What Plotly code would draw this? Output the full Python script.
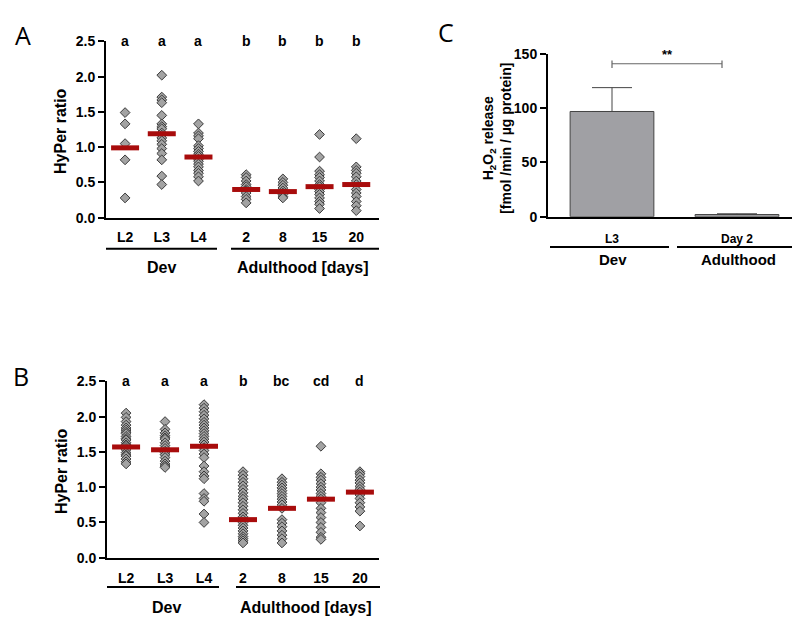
import plotly.graph_objects as go

# ---------------- data ----------------
groups_AB = ["L2", "L3", "L4", "2", "8", "15", "20"]

A_L2 = [1.49, 1.33, 1.05, 0.82, 0.28]
A_L3 = [2.02, 1.71, 1.67, 1.63, 1.45, 1.33, 1.29, 1.26, 1.20, 1.17, 1.13, 1.09, 1.04, 0.98, 0.91, 0.82, 0.59, 0.47]
A_L4 = [1.33, 1.20, 1.16, 1.12, 1.02, 0.98, 0.94, 0.90, 0.87, 0.83, 0.80, 0.76, 0.72, 0.67, 0.63, 0.58, 0.52]
A_D2 = [0.61, 0.57, 0.52, 0.47, 0.44, 0.40, 0.38, 0.35, 0.30, 0.26, 0.21]
A_D8 = [0.55, 0.50, 0.46, 0.42, 0.38, 0.35, 0.33, 0.30, 0.28]
A_D15 = [1.18, 0.86, 0.66, 0.61, 0.57, 0.52, 0.47, 0.44, 0.40, 0.37, 0.33, 0.28, 0.23, 0.19, 0.13]
A_D20 = [1.12, 0.72, 0.67, 0.63, 0.58, 0.52, 0.47, 0.40, 0.35, 0.30, 0.23, 0.17, 0.10]
A_means = [0.99, 1.19, 0.86, 0.40, 0.37, 0.44, 0.47]
A_letters = ["a", "a", "a", "b", "b", "b", "b"]

B_L2 = [2.05, 1.99, 1.93, 1.88, 1.84, 1.81, 1.78, 1.76, 1.72, 1.69, 1.67, 1.63, 1.60, 1.58, 1.55, 1.53, 1.49, 1.46, 1.44, 1.40, 1.36, 1.33]
B_L3 = [1.93, 1.82, 1.77, 1.73, 1.70, 1.68, 1.63, 1.59, 1.55, 1.51, 1.49, 1.46, 1.42, 1.37, 1.33, 1.30, 1.28]
B_L4 = [2.17, 2.12, 2.07, 2.02, 1.97, 1.92, 1.88, 1.84, 1.80, 1.76, 1.72, 1.68, 1.64, 1.60, 1.56, 1.52, 1.47, 1.42,
        1.30, 1.22, 1.16, 1.12, 0.91, 0.84, 0.80, 0.62, 0.50]
B_D2 = [1.22, 1.17, 1.12, 1.07, 1.02, 0.97, 0.92, 0.87, 0.83, 0.78, 0.73, 0.68, 0.63, 0.58, 0.54, 0.50, 0.46, 0.42,
        0.38, 0.34, 0.30, 0.27, 0.24, 0.21]
B_D8 = [1.12, 1.07, 1.03, 0.99, 0.95, 0.91, 0.87, 0.83, 0.79, 0.75, 0.70, 0.54, 0.49, 0.44, 0.38, 0.32, 0.27, 0.21]
B_D15 = [1.58, 1.19, 1.14, 1.10, 1.05, 1.00, 0.96, 0.91, 0.87, 0.83, 0.78, 0.70, 0.64, 0.57, 0.50, 0.43, 0.36, 0.29, 0.26]
B_D20 = [1.22, 1.19, 1.15, 1.10, 1.06, 1.01, 0.97, 0.93, 0.89, 0.84, 0.78, 0.72, 0.66, 0.45]
B_means = [1.57, 1.53, 1.58, 0.54, 0.70, 0.83, 0.93]
B_letters = ["a", "a", "a", "b", "bc", "cd", "d"]

C_categories = ["L3", "Day 2"]
C_values = [97, 2]
C_errors = [22, 0.7]
C_sig = "**"

# ---------------- style ----------------
FONT = "Liberation Sans, Arial, sans-serif"
GRAY = "#a3a3a3"
EDGE = "#3a3a3a"
RED = "#a80c0c"

posA = [0, 1, 2, 3.3, 4.3, 5.3, 6.3]
posB = [0, 1, 2, 3, 4, 5, 6]

fig = go.Figure()


def add_panel(series, means, pos, xa, ya):
    for p, vals in zip(pos, series):
        fig.add_trace(go.Scatter(
            x=[p] * len(vals), y=vals, mode="markers", xaxis=xa, yaxis=ya,
            marker=dict(symbol="diamond", size=7.5, color=GRAY, line=dict(color=EDGE, width=1)),
            cliponaxis=False, showlegend=False, hoverinfo="y"))
    fig.add_trace(go.Scatter(
        x=pos, y=means, mode="markers", xaxis=xa, yaxis=ya,
        marker=dict(symbol="line-ew", size=20, line=dict(color=RED, width=5)),
        cliponaxis=False, showlegend=False, hoverinfo="y"))


add_panel([A_L2, A_L3, A_L4, A_D2, A_D8, A_D15, A_D20], A_means, posA, "x", "y")
add_panel([B_L2, B_L3, B_L4, B_D2, B_D8, B_D15, B_D20], B_means, posB, "x2", "y2")

fig.add_trace(go.Bar(
    x=[0, 1], y=C_values, xaxis="x3", yaxis="y3", width=0.67,
    marker=dict(color="#a0a0a4", line=dict(color="#444444", width=1)),
    error_y=dict(type="data", array=C_errors, arrayminus=[0, 0], symmetric=False,
                 color="#444444", thickness=1, width=20),
    showlegend=False))


def bfont(size):
    return dict(family=FONT, size=size, color="black", weight="bold")


yax_common = dict(showline=True, linewidth=2, linecolor="black", ticks="outside", ticklen=6,
                  tickwidth=2, tickcolor="black", showgrid=False, zeroline=False,
                  tickfont=bfont(14))
xax_common = dict(showline=True, linewidth=2, linecolor="black", ticks="outside", ticklen=6,
                  tickcolor="rgba(0,0,0,0)", showgrid=False, zeroline=False, tickfont=bfont(14))

fig.update_layout(
    width=800, height=623, margin=dict(l=0, r=0, t=0, b=0),
    paper_bgcolor="white", plot_bgcolor="white",
    xaxis=dict(domain=[98 / 800, 371 / 800], range=[-0.52, 6.92], anchor="y",
               tickvals=posA, ticktext=groups_AB, **xax_common),
    yaxis=dict(domain=[1 - 207 / 623, 1 - 26 / 623], range=[0, 2.5], anchor="x",
               tickvals=[0, 0.5, 1.0, 1.5, 2.0, 2.5], tickformat=".1f", **yax_common),
    xaxis2=dict(domain=[99 / 800, 371 / 800], range=[-0.49, 6.49], anchor="y2",
                tickvals=posB, ticktext=groups_AB, **xax_common),
    yaxis2=dict(domain=[1 - 556 / 623, 1 - 375 / 623], range=[0, 2.5], anchor="x2",
                tickvals=[0, 0.5, 1.0, 1.5, 2.0, 2.5], tickformat=".1f", **yax_common),
    xaxis3=dict(domain=[540 / 800, 792 / 800], range=[-0.512, 1.504], anchor="y3",
                tickvals=[0, 1], ticktext=C_categories,
                **{**xax_common, "tickfont": bfont(12), "ticklen": 10}),
    yaxis3=dict(domain=[1 - 206 / 623, 1 - 39 / 623], range=[0, 150], anchor="x3",
                tickvals=[0, 50, 100, 150], **yax_common),
)

ann = []
# panel letters
for t, x, y in [("A", 15, 19), ("B", 13, 370), ("C", 438, 16)]:
    ann.append(dict(text=t, x=x / 800, y=1 - y / 623, xref="paper", yref="paper", showarrow=False,
                    font=dict(family="Open Sans, Liberation Sans, sans-serif", size=25, color="black"),
                    xanchor="center", yanchor="middle"))
# significance letters
for p, t in zip(posA, A_letters):
    ann.append(dict(text=t, x=p, y=2.5, xref="x", yref="y", showarrow=False,
                    font=bfont(14), yanchor="middle"))
for p, t in zip(posB, B_letters):
    ann.append(dict(text=t, x=p, y=2.5, xref="x2", yref="y2", showarrow=False,
                    font=bfont(14), yanchor="middle"))
# y titles
for x, y in [(53, 118), (53, 467)]:
    ann.append(dict(text="HyPer ratio", x=x / 800, y=1 - y / 623, xref="paper", yref="paper",
                    showarrow=False, textangle=-90, font=bfont(16),
                    xanchor="center", yanchor="middle"))
ann.append(dict(text="H<sub>2</sub>O<sub>2</sub> release<br>[fmol /min / µg protein]",
                x=489 / 800, y=1 - 125 / 623, xref="paper", yref="paper", showarrow=False, textangle=-90,
                font=bfont(14), xanchor="center", yanchor="middle"))
# group labels
for t, x, y, s in [("Dev", 153, 258, 16), ("Adulthood [days]", 295, 258, 16),
                   ("Dev", 158, 607, 16), ("Adulthood [days]", 298, 607, 16),
                   ("Dev", 605, 250, 15), ("Adulthood", 730, 250, 15)]:
    ann.append(dict(text=t, x=x / 800, y=1 - y / 623, xref="paper", yref="paper", showarrow=False,
                    font=bfont(s), xanchor="center", yanchor="middle"))
# significance stars
ann.append(dict(text=C_sig, x=0.44, y=141, xref="x3", yref="y3", showarrow=False,
                font=bfont(13), yanchor="bottom"))
fig.update_layout(annotations=ann)

shapes = []
for x0, x1, y in [(98, 209, 239), (223, 371, 239), (99, 211, 586), (228, 372, 586),
                  (542, 661, 237), (669, 792, 237)]:
    shapes.append(dict(type="line", xref="paper", yref="paper", x0=x0 / 800, x1=x1 / 800,
                       y0=1 - y / 623, y1=1 - y / 623, line=dict(color="black", width=2)))
# bracket in panel C
br = dict(color="#666666", width=1.2)
shapes.append(dict(type="line", xref="x3", yref="y3", x0=0, x1=0.88, y0=141, y1=141, line=br))
shapes.append(dict(type="line", xref="x3", yref="y3", x0=0, x1=0, y0=137, y1=144, line=br))
shapes.append(dict(type="line", xref="x3", yref="y3", x0=0.88, x1=0.88, y0=137, y1=144, line=br))
fig.update_layout(shapes=shapes)

fig.write_html("out.html")
